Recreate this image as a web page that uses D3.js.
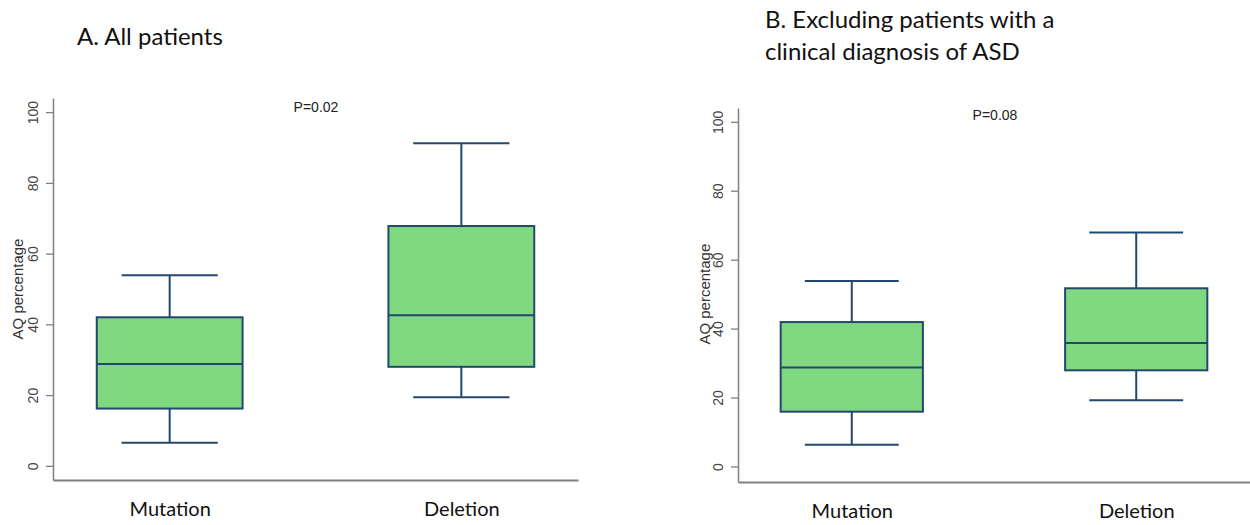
<!DOCTYPE html>
<html>
<head>
<meta charset="utf-8">
<script src="https://cdn.jsdelivr.net/npm/d3@7"></script>
<style>
  body { margin: 0; background: #fff; }
  svg { display: block; }
</style>
</head>
<body>
<div id="chart"></div>
<script>
// groups on the x axis
const groups = ["Mutation", "Deletion"];

// box stats per panel: [low whisker, Q1, median, Q3, high whisker]
const allMutation = [6.5, 16.2, 28.8, 42, 53.9];
const allDeletion = [19.4, 28, 42.6, 67.8, 91.2];
const exclMutation = [6.3, 15.9, 28.7, 41.9, 53.8];
const exclDeletion = [19.2, 27.9, 35.8, 51.7, 67.9];

const yTicks = [0, 20, 40, 60, 80, 100];
const pValues = ["P=0.02", "P=0.08"];
const titlesA = ["A. All patients"];
const titlesB = ["B. Excluding patients with a", "clinical diagnosis of ASD"];

const W = 1250, H = 525;
const boxFill = "#80d980", boxStroke = "#24476e", axisColor = "#808080";

const svg = d3.select("#chart").append("svg")
  .attr("width", W).attr("height", H);

// each panel: plotting area in pixels
const panels = [
  { left: 53, right: 578, top: 98, bottom: 480, yMin: -4, yMax: 104,
    data: [allMutation, allDeletion], p: pValues[0], pX: 316, pY: 112,
    titles: titlesA, titleX: 77, titleY: 45, labelX: 18 },
  { left: 738, right: 1250, top: 108, bottom: 482, yMin: -4.5, yMax: 104,
    data: [exclMutation, exclDeletion], p: pValues[1], pX: 995, pY: 120,
    titles: titlesB, titleX: 765, titleY: 28, labelX: 705 }
];

panels.forEach(pn => {
  const g = svg.append("g");

  const x = d3.scalePoint().domain(groups).range([pn.left, pn.right]).padding(0.4);
  const y = d3.scaleLinear().domain([pn.yMin, pn.yMax]).range([pn.bottom, pn.top]);
  const step = x.step();
  const boxW = step * 0.5, capW = step * 0.33;

  // y axis
  const yAxis = g.append("g")
    .attr("transform", `translate(${pn.left},0)`)
    .call(d3.axisLeft(y).tickValues(yTicks).tickSize(7).tickSizeOuter(0).tickPadding(12));
  yAxis.select(".domain").attr("stroke", axisColor).attr("stroke-width", 1.5);
  yAxis.selectAll(".tick line").attr("stroke", axisColor).attr("stroke-width", 1.3);
  yAxis.selectAll(".tick text")
    .attr("transform", "rotate(-90)")
    .attr("x", 0).attr("y", -20)
    .attr("dy", "0.35em")
    .attr("text-anchor", "middle")
    .attr("fill", "#444")
    .style("font", "14px 'Liberation Sans', Arial, sans-serif");

  // x axis
  const xAxis = g.append("g")
    .attr("transform", `translate(0,${pn.bottom})`)
    .call(d3.axisBottom(x).tickSize(0).tickSizeOuter(0).tickPadding(22));
  xAxis.select(".domain").attr("stroke", axisColor).attr("stroke-width", 2);
  xAxis.selectAll(".tick text")
    .attr("fill", "#111")
    .style("font", "20px Lato, 'Open Sans', sans-serif");

  // y label
  g.append("text")
    .attr("transform", `translate(${pn.labelX},${y(50)}) rotate(-90)`)
    .attr("text-anchor", "middle")
    .attr("dy", "0.35em")
    .attr("fill", "#333")
    .style("font", "15px 'Liberation Sans', Arial, sans-serif")
    .text("AQ percentage");

  // boxes
  const box = g.selectAll(".box").data(pn.data.map((d, i) => ({ key: groups[i], v: d })))
    .enter().append("g").attr("class", "box");

  box.append("line")
    .attr("x1", d => x(d.key)).attr("x2", d => x(d.key))
    .attr("y1", d => y(d.v[0])).attr("y2", d => y(d.v[4]))
    .attr("stroke", boxStroke).attr("stroke-width", 2);
  box.selectAll(".cap").data(d => [[d.key, d.v[0]], [d.key, d.v[4]]])
    .enter().append("line")
    .attr("x1", d => x(d[0]) - capW / 2).attr("x2", d => x(d[0]) + capW / 2)
    .attr("y1", d => y(d[1])).attr("y2", d => y(d[1]))
    .attr("stroke", boxStroke).attr("stroke-width", 2);
  box.append("rect")
    .attr("x", d => x(d.key) - boxW / 2).attr("width", boxW)
    .attr("y", d => y(d.v[3])).attr("height", d => y(d.v[1]) - y(d.v[3]))
    .attr("fill", boxFill).attr("stroke", boxStroke).attr("stroke-width", 2);
  box.append("line")
    .attr("x1", d => x(d.key) - boxW / 2).attr("x2", d => x(d.key) + boxW / 2)
    .attr("y1", d => y(d.v[2])).attr("y2", d => y(d.v[2]))
    .attr("stroke", boxStroke).attr("stroke-width", 2);

  // p value
  g.append("text")
    .attr("x", pn.pX).attr("y", pn.pY)
    .attr("text-anchor", "middle")
    .attr("fill", "#222")
    .style("font", "14px 'Liberation Sans', Arial, sans-serif")
    .text(pn.p);

  // titles
  g.selectAll(".title").data(pn.titles).enter().append("text")
    .attr("x", pn.titleX).attr("y", (d, i) => pn.titleY + i * 32)
    .attr("fill", "#111")
    .style("font", "24px Lato, 'Open Sans', sans-serif")
    .text(d => d);
});
</script>
</body>
</html>
